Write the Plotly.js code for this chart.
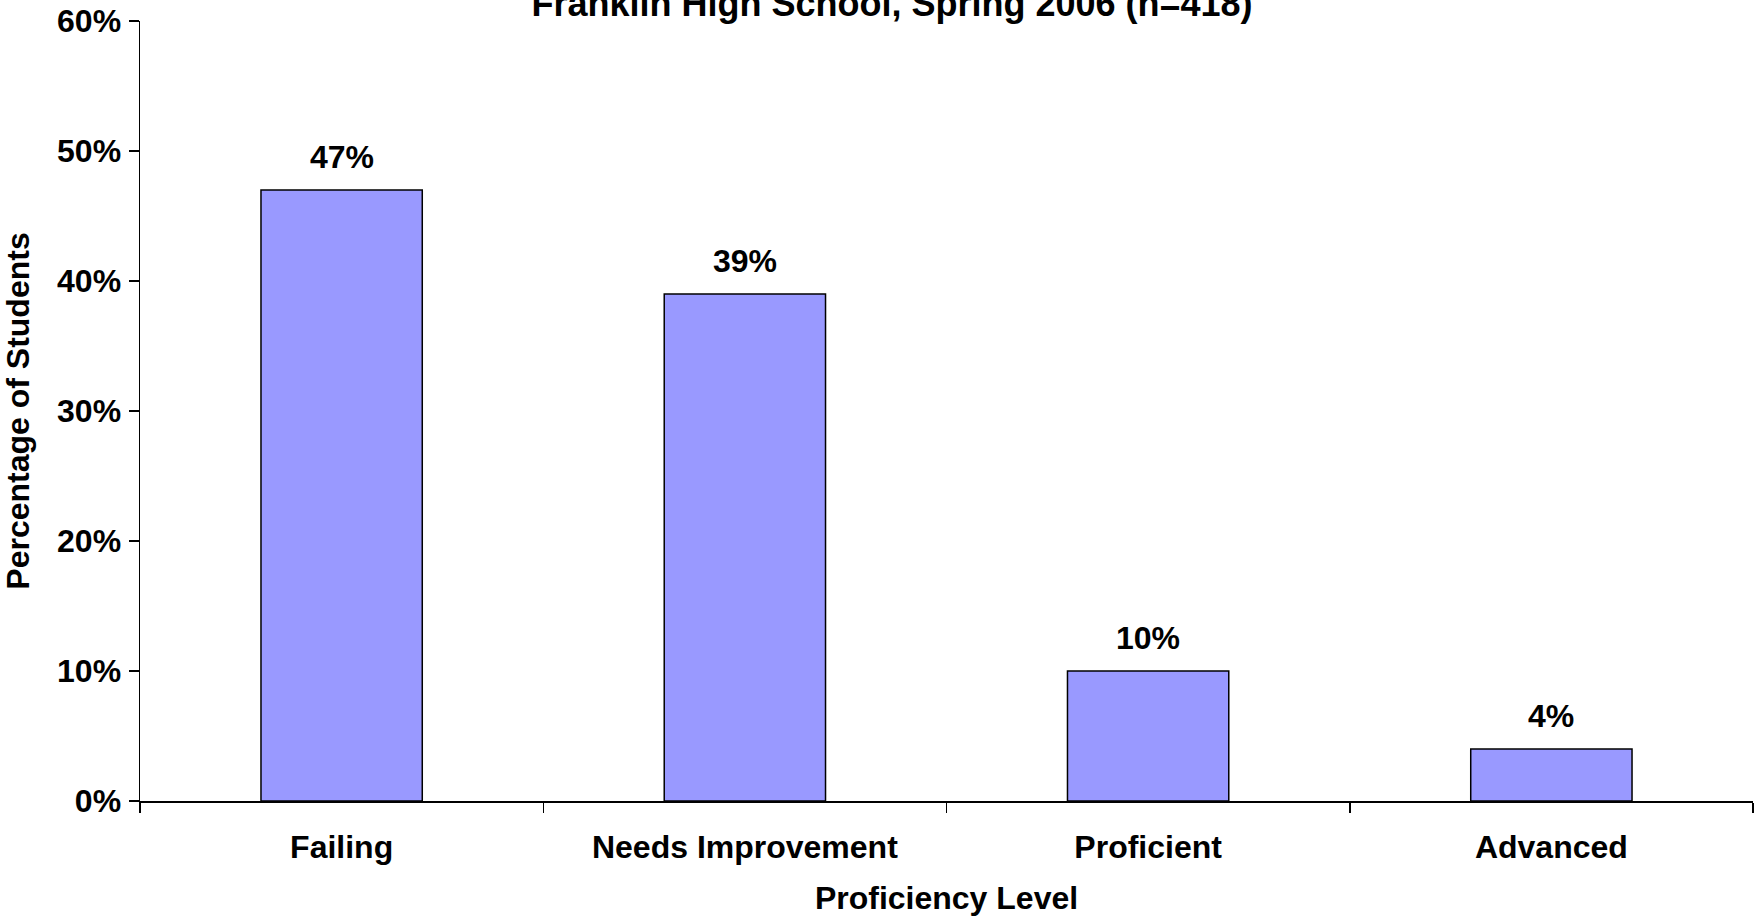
<!DOCTYPE html>
<html>
<head>
<meta charset="utf-8">
<script src="https://cdn.plot.ly/plotly-3.0.1.min.js"></script>
<style>
html,body{margin:0;padding:0;background:#fff;}
#chart{width:1762px;height:916px;}
</style>
</head>
<body>
<div id="chart"></div>
<script>
const categories = ["Failing", "Needs Improvement", "Proficient", "Advanced"];
const percentages = [0.47, 0.39, 0.10, 0.04];
const yTickValues = [0, 0.1, 0.2, 0.3, 0.4, 0.5, 0.6];
const chartTitle = "Franklin High School, Spring 2006 (n=418)";
const xTitle = "Proficiency Level";
const yTitle = "Percentage of Students";

const FONT = "Liberation Sans, Arial, Helvetica, sans-serif";
const SZ = 32;

const trace = {
  type: "bar",
  x: categories,
  y: percentages,
  marker: { color: "#9999FF", line: { color: "#000000", width: 1.5 } },
  hoverinfo: "x+y"
};

const annotations = categories.map((c, i) => ({
  x: c,
  y: percentages[i],
  xref: "x",
  yref: "y",
  text: Math.round(percentages[i] * 100) + "%",
  showarrow: false,
  yanchor: "bottom",
  yshift: 13,
  font: { family: FONT, size: SZ, color: "#000", weight: "bold" }
}));

const layout = {
  width: 1762,
  height: 916,
  paper_bgcolor: "#ffffff",
  plot_bgcolor: "#ffffff",
  margin: { l: 140, r: 9, t: 21, b: 115, pad: 0 },
  showlegend: false,
  bargap: 0.6,
  font: { family: FONT, size: SZ, color: "#000", weight: "bold" },
  title: {
    text: chartTitle,
    font: { family: FONT, size: 36, color: "#000", weight: "bold" },
    x: 892 / 1762,
    xanchor: "center",
    xref: "container",
    y: 1 - 16 / 916,
    yref: "container",
    yanchor: "bottom"
  },
  xaxis: {
    type: "category",
    range: [-0.5, 3.5],
    showline: true,
    linecolor: "#000",
    linewidth: 1.5,
    ticks: "outside",
    tickson: "boundaries",
    ticklen: 10,
    tickwidth: 1.5,
    tickcolor: "#000",
    showgrid: false,
    zeroline: false,
    ticklabelstandoff: 17,
    tickfont: { family: FONT, size: SZ, color: "#000", weight: "bold" },
    title: { text: xTitle, font: { family: FONT, size: SZ, color: "#000", weight: "bold" }, standoff: 25 },
    automargin: false,
    fixedrange: true
  },
  yaxis: {
    range: [0, 0.6],
    tickvals: yTickValues,
    tickformat: ".0%",
    showline: true,
    linecolor: "#000",
    linewidth: 1.5,
    ticks: "outside",
    ticklen: 10,
    tickwidth: 1.5,
    tickcolor: "#000",
    showgrid: false,
    zeroline: false,
    ticklabelstandoff: 1,
    tickfont: { family: FONT, size: SZ, color: "#000", weight: "bold" },
    title: { text: yTitle, font: { family: FONT, size: SZ, color: "#000", weight: "bold" }, standoff: 24 },
    automargin: false,
    fixedrange: true
  },
  annotations: annotations
};

Plotly.newPlot("chart", [trace], layout, { displayModeBar: false, staticPlot: true });
</script>
</body>
</html>
